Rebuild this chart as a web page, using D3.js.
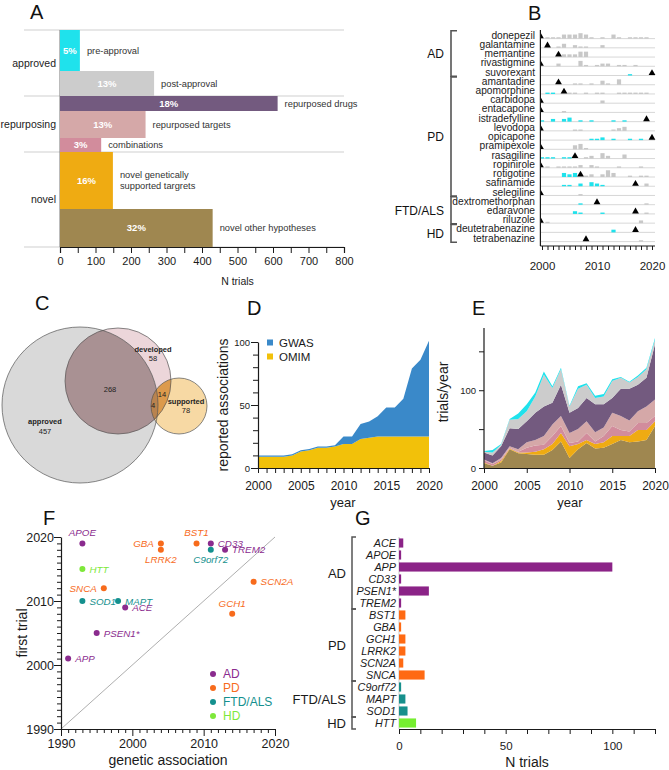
<!DOCTYPE html>
<html><head><meta charset="utf-8">
<script src="https://cdn.jsdelivr.net/npm/d3@7"></script>
<style>
body{margin:0;background:#fff}
svg{display:block}
text{font-family:"Liberation Sans",Arial,Helvetica,sans-serif}
</style>
</head><body>
<svg id="c" width="669" height="770"></svg>
<script>
// ---------------- DATA ----------------
// Panel A
const aCategories = ["pre-approval","post-approval","repurposed drugs","repurposed targets","combinations","novel genetically|supported targrets","novel other hypotheses"];
const aTrials = [56,265,613,241,116,149,430];
const aPercent = ["5%","13%","18%","13%","3%","16%","32%"];
const aThickness = [41,25,15,27,14,57,38];
const aGroups = ["approved","repurposing","novel"];
const aGroupOf = [0,0,1,1,1,2,2];
const aTicks = [0,50,100,150,200,250,300,350,400,450,500,550,600,650,700,750,800];

// Panel B
const bDrugs = ["donepezil","galantamine","memantine","rivastigmine","suvorexant","amantadine","apomorphine","carbidopa","entacapone","istradefylline","levodopa","opicapone","pramipexole","rasagiline","ropinirole","rotigotine","safinamide","selegiline","dextromethorphan","edaravone","riluzole","deutetrabenazine","tetrabenazine"];
const bApproval = [1996,2001,2003,2000,2020,2003,2004,1975,1999,2019,1970,2020,1997,2006,1997,2007,2017,1989,2010,2017,1995,2017,2008];
const bTrials = [
  [[2001,1],[2002,1],[2003,1],[2004,3],[2005,3],[2006,3],[2007,4],[2008,3],[2009,1],[2011,1],[2013,3],[2014,1],[2016,1],[2017,1],[2018,1],[2019,1]],
  [[2003,1],[2004,3],[2006,2],[2007,1],[2008,1],[2011,2]],
  [[2004,2],[2005,2],[2006,2],[2007,4],[2008,4]],
  [[2003,2],[2007,4],[2008,1],[2010,1],[2011,2],[2012,2],[2014,1],[2015,1],[2017,1]],
  [[2016,1]],
  [[2006,1],[2007,1],[2009,1],[2011,3],[2012,1],[2014,4]],
  [[2001,1],[2002,1],[2005,1],[2006,1],[2008,1],[2010,1],[2011,1],[2014,1],[2015,1],[2016,1],[2017,1],[2018,1],[2019,1]],
  [[2011,2]],
  [[2004,1]],
  [[2000,1],[2002,2],[2004,2],[2005,3],[2007,1],[2009,1],[2013,1],[2015,1]],
  [[2006,1],[2007,1],[2013,1],[2014,2],[2015,3]],
  [[2009,1],[2010,1],[2011,2],[2013,1],[2016,1],[2018,1]],
  [[2006,3],[2007,4],[2008,1]],
  [[2000,1],[2001,1],[2002,1],[2004,1],[2005,1],[2008,1],[2009,2],[2011,4],[2012,2],[2015,3]],
  [[2001,1],[2003,1],[2004,1],[2005,1],[2006,1],[2007,2],[2009,2],[2010,1],[2014,1],[2018,1]],
  [[2004,3],[2005,2],[2006,3],[2008,1],[2009,2],[2011,2],[2012,5],[2013,3],[2016,1],[2018,1],[2019,1]],
  [[2004,1],[2005,1],[2007,2],[2009,3],[2010,2],[2011,1],[2019,2]],
  [[2007,1]],
  [[2007,1],[2019,1]],
  [[2006,2],[2007,1],[2011,1],[2019,1]],
  [[2001,1],[2018,2]],
  [[2013,2]],
  [[2018,1]]
];
const bGroups = ["AD","PD","FTD/ALS","HD"];
const bGroupSize = [5,13,3,2];
const bTickLabels = [2000,2010,2020];

// Panel C
const cSets = ["approved","developed","supported"];
const cCounts = {approved:457, developed:58, supported:78, ad:268, ds:14, ads:4};

// Panel D
const dYears = [2000,2001,2002,2003,2004,2005,2006,2007,2008,2009,2010,2011,2012,2013,2014,2015,2016,2017,2018,2019,2020];
const dOMIM = [9,9,9,9,10,13,14,16,16,17,19,19,23,24,25,25,25,25,25,25,25];
const dGWAS = [1,1,1,1,1,1,1,1,1,1,6,6,12,13,16,23,23,30,54,61,76];

// Panel E
const eYears = [2000,2001,2002,2003,2004,2005,2006,2007,2008,2009,2010,2011,2012,2013,2014,2015,2016,2017,2018,2019,2020];
const eNovelOther = [6,3,7,24,19,18,17,17,23,34,13,24,32,25,26,31,36,33,34,36,54];
const eNovelGen   = [1,0,2,1,1,2,4,7,8,11,15,7,4,6,7,10,5,8,15,13,6];
const eComb       = [3,2,2,1,1,6,8,6,10,9,4,3,9,3,8,13,8,6,9,9,7];
const eRepTargets = [1,1,2,2,3,7,7,11,15,13,13,16,15,12,11,17,18,14,15,21,21];
const eRepDrugs   = [9,10,15,23,26,27,35,38,28,40,26,27,30,36,30,19,35,41,34,37,71];
const ePostAppr   = [1,4,2,11,13,13,21,41,19,20,8,25,17,8,10,22,14,8,10,11,6];
const ePreAppr    = [1,3,1,1,7,9,5,4,2,2,1,3,2,3,3,2,1,1,2,2,2];

// Panel F
const fGenes = ["APOE","HTT","SNCA","SOD1","MAPT","ACE","PSEN1*","APP","GBA","LRRK2","BST1","CD33","C9orf72","TREM2","SCN2A","GCH1"];
const fDisease = ["AD","HD","PD","FTD/ALS","FTD/ALS","AD","AD","AD","PD","PD","PD","AD","FTD/ALS","AD","PD","PD"];
const fAssoc = [1993,1993,1996,1993,1998,1999,1995,1991,2004,2004,2009,2011,2011,2013,2017,2014];
const fFirst = [2019,2015,2012,2010,2010,2009,2005,2001,2019,2018,2019,2019,2018,2018,2013,2008];
const fLabelSide = ["above","right","left","right","right","right","right","right","left","below","above","right","below","right","right","above"];
const fLegend = ["AD","PD","FTD/ALS","HD"];

// Panel G
const gGenes = ["ACE","APOE","APP","CD33","PSEN1*","TREM2","BST1","GBA","GCH1","LRRK2","SCN2A","SNCA","C9orf72","MAPT","SOD1","HTT"];
const gTrials = [2,1,100,1,14,1,3,1,3,3,2,12,1,3,4,8];
const gDisease = ["AD","AD","AD","AD","AD","AD","PD","PD","PD","PD","PD","PD","FTD/ALS","FTD/ALS","FTD/ALS","HD"];

// ---------------- STYLE ----------------
const aColors = ["#1fe2ec","#cccccc","#735a7f","#d5a8a8","#d28c9c","#efab12","#9f8750"];
const diseaseColor = {"AD":"#8a2b8e","PD":"#f76b1c","FTD/ALS":"#14908e","HD":"#7ee83a"};
const gColor = {"AD":"#8b2387","PD":"#ff6a13","FTD/ALS":"#17908c","HD":"#76ee30"};
const INK = "#1a1a1a";

const svg = d3.select("#c");

function styleAxis(g, fs){
  g.selectAll("text").style("font-size", fs+"px").attr("fill", INK);
  g.select(".domain").attr("stroke", INK).attr("stroke-width",1.2);
  g.selectAll(".tick line").attr("stroke", INK).attr("stroke-width",1);
}
function letter(t,x,y){
  svg.append("text").attr("x",x).attr("y",y).text(t).style("font-size","20px").attr("fill","#111");
}

// ---------------- PANEL A ----------------
(function(){
  const xA = d3.scaleLinear().domain([0,800]).range([60,344]);
  const tot = d3.sum(aThickness);
  const yA = d3.scaleLinear().domain([0,tot]).range([30,247]);
  const cum = d3.cumsum(aThickness);
  const g = svg.append("g");
  letter("A",30,19);
  const bounds = [0];
  aGroupOf.forEach((gi,i)=>{ if(i>0 && gi!==aGroupOf[i-1]) bounds.push(cum[i-1]); });
  bounds.push(tot);
  g.selectAll("line.grid").data(bounds).join("line")
    .attr("x1",24).attr("x2",xA(800)).attr("y1",d=>yA(d)).attr("y2",d=>yA(d))
    .attr("stroke","#cfcfcf").attr("stroke-width",1);
  g.append("line").attr("x1",xA(0)).attr("x2",xA(0)).attr("y1",yA(0)).attr("y2",yA(tot)).attr("stroke","#777");
  const rows = aTrials.map((v,i)=>({v,i,y0:yA(cum[i]-aThickness[i]),y1:yA(cum[i])}));
  g.selectAll("rect.bar").data(rows).join("rect")
    .attr("x",xA(0)).attr("y",d=>d.y0).attr("width",d=>xA(d.v)-xA(0)).attr("height",d=>d.y1-d.y0)
    .attr("fill",d=>aColors[d.i]);
  g.selectAll("text.pct").data(rows).join("text")
    .attr("x",d=>(xA(0)+xA(d.v))/2).attr("y",d=>(d.y0+d.y1)/2).attr("dy","0.36em")
    .attr("text-anchor","middle").attr("fill","#fff").style("font-weight","bold").style("font-size","9.5px")
    .text(d=>aPercent[d.i]);
  rows.forEach(d=>{
    const lines = aCategories[d.i].split("|");
    const t = g.append("text").attr("x",xA(d.v)+7).attr("y",(d.y0+d.y1)/2).attr("fill","#333").style("font-size","9.3px");
    lines.forEach((l,k)=>{
      t.append("tspan").attr("x",xA(d.v)+7).attr("dy", k===0 ? (0.36-(lines.length-1)*0.6)+"em" : "1.2em").text(l);
    });
  });
  aGroups.forEach((name,gi)=>{
    const idx = aGroupOf.map((v,i)=>v===gi?i:-1).filter(i=>i>=0);
    const y0 = yA(cum[idx[0]]-aThickness[idx[0]]), y1 = yA(cum[idx[idx.length-1]]);
    g.append("text").attr("x",56).attr("y",(y0+y1)/2).attr("dy","0.36em").attr("text-anchor","end")
      .style("font-size","10.5px").attr("fill","#222").text(name);
  });
  const ax = g.append("g").attr("transform",`translate(0,${yA(tot)})`)
    .call(d3.axisBottom(xA).tickValues(aTicks).tickFormat(d=>d%100===0?d:"").tickSize(6).tickPadding(4));
  styleAxis(ax,11);
  g.append("text").attr("x",xA(500)).attr("y",285).attr("text-anchor","middle").style("font-size","10.5px").attr("fill","#222").text("N trials");
})();

// ---------------- PANEL B ----------------
(function(){
  const xB = d3.scaleLinear().domain([2000,2020]).range([542,652]);
  const spine = xB(2000)-1.6;
  const yB = d3.scaleLinear().domain([0,bDrugs.length-1]).range([35,238]);
  const g = svg.append("g");
  letter("B",528,20);
  g.append("clipPath").attr("id","clipB").append("rect").attr("x",spine).attr("y",20).attr("width",130).attr("height",240);
  bDrugs.forEach((name,i)=>{
    const base = yB(i)+3.6;
    g.append("line").attr("x1",spine).attr("x2",655).attr("y1",base).attr("y2",base).attr("stroke","#cdcdcd").attr("stroke-width",0.8);
    g.append("text").attr("x",535).attr("y",yB(i)).attr("dy","0.36em").attr("text-anchor","end")
      .style("font-size","10.2px").attr("fill","#222").text(name);
    const rowG = g.append("g").attr("clip-path","url(#clipB)");
    rowG.selectAll("rect").data(bTrials[i]).join("rect")
      .attr("x",d=>xB(d[0])-2.1).attr("width",4.2)
      .attr("y",d=>base-d[1]*1.35).attr("height",d=>d[1]*1.35)
      .attr("fill",d=>d[0]<bApproval[i] ? "#1fe2ec" : "#c8c8c8");
    const ax = bApproval[i] <= 2000 ? spine : xB(bApproval[i]);
    rowG.append("path").attr("d",d3.symbol(d3.symbolTriangle,20)())
      .attr("transform",`translate(${ax},${base-2.4})`).attr("fill","#000");
  });
  g.append("line").attr("x1",spine).attr("x2",spine).attr("y1",30).attr("y2",246).attr("stroke",INK).attr("stroke-width",1.2);
  const axg = g.append("g").attr("transform","translate(0,246)")
    .call(d3.axisBottom(xB).ticks(20).tickFormat(d=>bTickLabels.includes(d)?d:"").tickSize(4).tickSizeOuter(0).tickPadding(12));
  styleAxis(axg,11.5);
  axg.select(".domain").attr("d",`M${spine},0H655`);
  let start = 0;
  bGroups.forEach((name,gi)=>{
    const n = bGroupSize[gi];
    const y0 = yB(start)-4.3, y1 = yB(start+n-1)+4.3;
    g.append("path").attr("d",`M457,${y0}H451V${y1}H457`).attr("fill","none").attr("stroke","#555").attr("stroke-width",1.6);
    g.append("text").attr("x",444).attr("y",(y0+y1)/2).attr("dy","0.36em").attr("text-anchor","end")
      .style("font-size","12px").attr("fill","#111").text(name);
    start += n;
  });
})();

// ---------------- PANEL C ----------------
(function(){
  const g = svg.append("g");
  letter("C",35,310);
  const circ = {approved:{cx:80,cy:405,r:78}, developed:{cx:118,cy:381,r:53}, supported:{cx:179,cy:406,r:28}};
  const defs = g.append("defs");
  ["approved","developed","supported"].forEach(k=>{
    defs.append("clipPath").attr("id","cp_"+k).append("circle").attr("cx",circ[k].cx).attr("cy",circ[k].cy).attr("r",circ[k].r);
  });
  const circle = (k,fill,clip)=>{
    const c = g.append("circle").attr("cx",circ[k].cx).attr("cy",circ[k].cy).attr("r",circ[k].r).attr("fill",fill);
    if(clip) c.attr("clip-path","url(#cp_"+clip+")");
    return c;
  };
  circle("approved","#d9d9d9");
  circle("developed","#ecd6da");
  circle("supported","#f7d9a4");
  circle("developed","#a99193","approved");
  g.append("g").attr("clip-path","url(#cp_developed)").append("circle")
    .attr("cx",circ.supported.cx).attr("cy",circ.supported.cy).attr("r",circ.supported.r).attr("fill","#dc9a4c");
  const g3 = g.append("g").attr("clip-path","url(#cp_approved)").append("g").attr("clip-path","url(#cp_developed)");
  g3.append("circle").attr("cx",circ.supported.cx).attr("cy",circ.supported.cy).attr("r",circ.supported.r).attr("fill","#b9834f");
  ["approved","developed","supported"].forEach(k=>{
    g.append("circle").attr("cx",circ[k].cx).attr("cy",circ[k].cy).attr("r",circ[k].r).attr("fill","none").attr("stroke","#555").attr("stroke-width",0.7);
  });
  const txt=(x,y,t,b)=>g.append("text").attr("x",x).attr("y",y).attr("text-anchor","middle").style("font-size","7.5px")
    .style("font-weight",b?"bold":"normal").attr("fill","#222").text(t);
  txt(45,424,cSets[0],true); txt(45,434,cCounts.approved);
  txt(153,352,cSets[1],true); txt(153,361,cCounts.developed);
  txt(186,404,cSets[2],true); txt(186,413,cCounts.supported);
  txt(110,392,cCounts.ad); txt(162,397,cCounts.ds); txt(153,408,cCounts.ads);
})();

// ---------------- PANEL D ----------------
(function(){
  const g = svg.append("g");
  letter("D",247,315);
  const x = d3.scaleLinear().domain([2000,2020]).range([258,429]);
  const y = d3.scaleLinear().domain([0,100]).range([468,342]);
  const data = dYears.map((yr,i)=>({yr,OMIM:dOMIM[i],GWAS:dGWAS[i]}));
  const st = d3.stack().keys(["OMIM","GWAS"])(data);
  const col = {OMIM:"#f2c10a",GWAS:"#3a89c9"};
  const area = d3.area().x(d=>x(d.data.yr)).y0(d=>y(d[0])).y1(d=>y(d[1]));
  g.selectAll("path.a").data(st).join("path").attr("d",area).attr("fill",d=>col[d.key]);
  const ya = g.append("g").attr("transform","translate(258,0)")
    .call(d3.axisLeft(y).tickValues([0,10,20,30,40,50,60,70,80,90,100]).tickFormat(d=>d%50===0?d:"").tickSize(5).tickSizeOuter(0));
  styleAxis(ya,9.5);
  ya.selectAll(".tick").filter(d=>d%50===0).select("line").attr("x2",-7);
  const xa = g.append("g").attr("transform","translate(0,468)")
    .call(d3.axisBottom(x).ticks(20).tickFormat(d=>d%5===0?d:"").tickSize(5).tickSizeOuter(0).tickPadding(8));
  styleAxis(xa,12);
  g.append("text").attr("x",343).attr("y",507).attr("text-anchor","middle").style("font-size","13px").attr("fill",INK).text("year");
  g.append("text").attr("transform","translate(228,405) rotate(-90)").attr("text-anchor","middle").style("font-size","14px").attr("fill",INK).text("reported associations");
  [["GWAS",343],["OMIM",357]].forEach(([k,yy])=>{
    g.append("rect").attr("x",267).attr("y",yy-3.5).attr("width",6).attr("height",6).attr("fill",col[k]);
    g.append("text").attr("x",279).attr("y",yy).attr("dy","0.36em").style("font-size","11.5px").attr("fill",INK).text(k);
  });
})();

// ---------------- PANEL E ----------------
(function(){
  const g = svg.append("g");
  letter("E",472,315);
  const x = d3.scaleLinear().domain([2000,2020]).range([484,655]);
  const y = d3.scaleLinear().domain([0,180]).range([468,328]);
  const keys = ["novelOther","novelGen","comb","repTargets","repDrugs","post","pre"];
  const colors = {novelOther:aColors[6],novelGen:aColors[5],comb:aColors[4],repTargets:aColors[3],repDrugs:aColors[2],post:aColors[1],pre:aColors[0]};
  const data = eYears.map((yr,i)=>({yr,novelOther:eNovelOther[i],novelGen:eNovelGen[i],comb:eComb[i],repTargets:eRepTargets[i],repDrugs:eRepDrugs[i],post:ePostAppr[i],pre:ePreAppr[i]}));
  const st = d3.stack().keys(keys)(data);
  const area = d3.area().x(d=>x(d.data.yr)).y0(d=>y(d[0])).y1(d=>y(d[1]));
  g.selectAll("path.a").data(st).join("path").attr("d",area).attr("fill",d=>colors[d.key]);
  const ya = g.append("g").attr("transform","translate(484,0)")
    .call(d3.axisLeft(y).tickValues([0,50,100,150]).tickFormat(d=>d%100===0?d:"").tickSize(5).tickSizeOuter(0));
  styleAxis(ya,9.5);
  ya.select(".domain").attr("d","M0,468V328");
  const xa = g.append("g").attr("transform","translate(0,468)")
    .call(d3.axisBottom(x).tickValues([2000,2005,2010,2015,2020]).tickFormat(d3.format("d")).tickSize(5).tickSizeOuter(0).tickPadding(8));
  styleAxis(xa,12);
  g.append("text").attr("x",570).attr("y",507).attr("text-anchor","middle").style("font-size","13px").attr("fill",INK).text("year");
  g.append("text").attr("transform","translate(448,392) rotate(-90)").attr("text-anchor","middle").style("font-size","14px").attr("fill",INK).text("trials/year");
})();

// ---------------- PANEL F ----------------
(function(){
  const g = svg.append("g");
  letter("F",43,525);
  const x = d3.scaleLinear().domain([1990,2020]).range([61,275]);
  const y = d3.scaleLinear().domain([1990,2020]).range([729,537]);
  g.append("line").attr("x1",x(1990)).attr("y1",y(1990)).attr("x2",x(2020)).attr("y2",y(2020)).attr("stroke","#999").attr("stroke-width",0.8);
  const yr = d3.range(1990,2021);
  const ya = g.append("g").attr("transform","translate(61,0)")
    .call(d3.axisLeft(y).tickValues(yr).tickFormat(d=>d%10===0?d:"").tickSize(4).tickSizeOuter(0));
  styleAxis(ya,12.5);
  ya.selectAll(".tick").filter(d=>d%10===0).select("line").attr("x2",-7);
  const xa = g.append("g").attr("transform","translate(0,729)")
    .call(d3.axisBottom(x).tickValues(yr).tickFormat(d=>d%10===0?d:"").tickSize(4).tickSizeOuter(0).tickPadding(6));
  styleAxis(xa,12.5);
  xa.selectAll(".tick").filter(d=>d%10===0).select("line").attr("y2",7);
  g.append("text").attr("x",168).attr("y",765).attr("text-anchor","middle").style("font-size","14px").attr("fill",INK).text("genetic association");
  g.append("text").attr("transform","translate(27,633) rotate(-90)").attr("text-anchor","middle").style("font-size","14px").attr("fill",INK).text("first trial");
  const pts = fGenes.map((gn,i)=>({gn,d:fDisease[i],x:x(fAssoc[i]),y:y(fFirst[i]),side:fLabelSide[i]}));
  g.selectAll("circle.p").data(pts).join("circle").attr("cx",d=>d.x).attr("cy",d=>d.y).attr("r",3).attr("fill",d=>diseaseColor[d.d]);
  pts.forEach(d=>{
    const t = g.append("text").style("font-size","9.8px").style("font-style","italic").attr("fill",diseaseColor[d.d]).text(d.gn);
    if(d.side==="right") t.attr("x",d.x+7).attr("y",d.y).attr("dy","0.36em");
    else if(d.side==="left") t.attr("x",d.x-7).attr("y",d.y).attr("dy","0.36em").attr("text-anchor","end");
    else if(d.side==="above") t.attr("x",d.x).attr("y",d.y-7).attr("text-anchor","middle");
    else t.attr("x",d.x).attr("y",d.y+13).attr("text-anchor","middle");
  });
  fLegend.forEach((k,i)=>{
    const yy = 674 + i*14;
    g.append("circle").attr("cx",213).attr("cy",yy).attr("r",3).attr("fill",diseaseColor[k]);
    g.append("text").attr("x",223).attr("y",yy).attr("dy","0.36em").style("font-size","12px").attr("fill",diseaseColor[k]).text(k);
  });
})();

// ---------------- PANEL G ----------------
(function(){
  const g = svg.append("g");
  letter("G",355,525);
  const x = d3.scaleLinear().domain([0,120]).range([399,655]);
  const y = d3.scaleBand().domain(gGenes).range([537,729]).paddingInner(0.24).paddingOuter(0.12);
  g.append("line").attr("x1",x(0)).attr("x2",x(0)).attr("y1",537).attr("y2",729).attr("stroke","#bbb").attr("stroke-width",0.8);
  g.selectAll("rect.b").data(gGenes).join("rect")
    .attr("x",x(0)).attr("y",d=>y(d)).attr("height",y.bandwidth())
    .attr("width",(d,i)=>x(gTrials[i])-x(0)).attr("fill",(d,i)=>gColor[gDisease[i]]);
  g.selectAll("text.gl").data(gGenes).join("text")
    .attr("x",396).attr("y",d=>y(d)+y.bandwidth()/2).attr("dy","0.36em").attr("text-anchor","end")
    .style("font-size","10.8px").style("font-style","italic").attr("fill",INK).text(d=>d);
  const xa = g.append("g").attr("transform","translate(0,729)")
    .call(d3.axisBottom(x).tickValues([0,10,20,30,40,50,60,70,80,90,100,110,120]).tickFormat(d=>d%50===0?d:"").tickSize(5).tickSizeOuter(0).tickPadding(8));
  styleAxis(xa,11.5);
  g.append("text").attr("x",527).attr("y",767).attr("text-anchor","middle").style("font-size","14px").attr("fill",INK).text("N trials");
  const groups = ["AD","PD","FTD/ALS","HD"];
  groups.forEach(k=>{
    const idx = gDisease.map((v,i)=>v===k?i:-1).filter(i=>i>=0);
    const y0 = y(gGenes[idx[0]])-1.5, y1 = y(gGenes[idx[idx.length-1]])+y.bandwidth()+1.5;
    g.append("path").attr("d",`M356,${y0}H352V${y1}H356`).attr("fill","none").attr("stroke","#555").attr("stroke-width",1.5);
    g.append("text").attr("x",346).attr("y",(y0+y1)/2).attr("dy","0.36em").attr("text-anchor","end")
      .style("font-size","13px").attr("fill",INK).text(k);
  });
})();
</script>
</body></html>
